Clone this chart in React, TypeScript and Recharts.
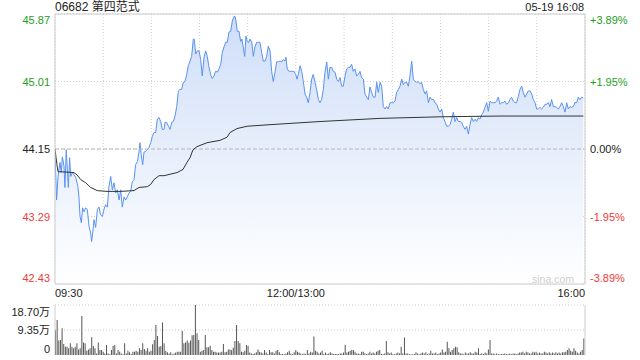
import React from 'react'
import { ComposedChart, Area, Line, XAxis, YAxis, CartesianGrid, ReferenceLine, BarChart, Bar } from 'recharts'

// minute offset from 09:30 (lunch break removed) and last price
const priceMinutes = [
  0, 1.0, 1.9, 3.1, 3.9, 4.6, 5.6, 6.2, 7.0, 7.7, 8.3, 9.1, 9.8, 10.8, 11.8, 12.9, 14.3, 14.9, 15.6, 16.4,
  17.2, 18.1, 19.1, 20.1, 21.2, 22.2, 22.8, 23.7, 24.3, 25.3, 26.4, 27.4, 28.4, 29.5, 30.5, 31.5, 32.6, 33.6, 34.7, 35.7,
  36.7, 37.8, 38.8, 39.9, 40.9, 41.9, 43.0, 44.0, 45.0, 46.1, 47.1, 48.1, 49.2, 50.2, 51.3, 52.3, 52.9, 53.7, 54.6, 55.4,
  56.5, 57.5, 58.5, 59.6, 60.6, 61.6, 62.7, 63.7, 64.8, 65.8, 66.8, 67.9, 68.5, 69.5, 70.6, 71.6, 72.7, 73.7, 74.7, 75.8,
  76.8, 77.8, 78.9, 79.9, 80.9, 82.0, 83.0, 84.1, 85.1, 86.1, 86.7, 87.6, 88.6, 89.7, 90.7, 91.7, 92.8, 93.8, 94.8, 95.9,
  96.9, 97.9, 99.0, 100.0, 101.1, 102.1, 103.2, 104.2, 105.2, 106.3, 107.3, 108.3, 109.4, 110.4, 111.5, 112.1, 112.7, 113.5, 114.6, 115.6,
  116.4, 117.2, 118.1, 118.9, 119.7, 120.6, 121.4, 122.5, 123.5, 124.5, 125.6, 126.6, 127.6, 128.7, 129.7, 130.8, 131.8, 132.8, 133.9, 134.9,
  135.9, 137.0, 138.0, 139.0, 140.1, 141.1, 142.2, 143.2, 143.8, 144.6, 145.7, 146.8, 147.8, 148.8, 149.9, 150.7, 151.5, 152.6, 153.6, 154.6,
  155.7, 156.7, 157.7, 158.8, 159.8, 160.8, 161.9, 162.9, 164.0, 165.0, 166.0, 167.1, 168.1, 169.2, 170.2, 171.2, 172.3, 173.3, 174.3, 175.4,
  176.4, 177.5, 178.5, 179.5, 180.6, 181.6, 182.6, 183.7, 184.7, 185.7, 186.8, 187.8, 188.9, 189.9, 190.9, 192.0, 193.0, 194.1, 195.1, 196.1,
  197.2, 198.2, 199.3, 200.3, 201.3, 202.4, 203.4, 204.4, 205.5, 206.5, 207.5, 208.6, 209.6, 210.7, 211.7, 212.7, 213.8, 214.8, 215.9, 216.9,
  217.9, 219.0, 220.0, 221.0, 222.1, 223.1, 224.2, 225.2, 226.2, 227.3, 228.3, 229.3, 230.4, 231.4, 232.5, 233.5, 234.5, 235.6, 236.6, 237.7,
  238.7, 239.7, 240.8, 241.8, 242.8, 243.9, 244.9, 246.0, 247.0, 248.0, 249.1, 250.1, 251.1, 252.2, 253.2, 254.2, 255.3, 256.3, 257.4, 258.4,
  259.4, 260.5, 261.5, 262.5, 263.6, 264.6, 265.7, 266.7, 267.7, 268.8, 269.8, 270.9, 271.9, 272.9, 274.0, 275.0, 276.0, 277.1, 278.1, 279.1,
  280.2, 281.2, 282.3, 283.3, 284.3, 285.4, 286.4, 287.4, 288.5, 289.5, 290.6, 291.6, 292.6, 293.7, 294.7, 295.8, 296.8, 297.8, 298.9, 299.9,
  300.9, 302.0, 303.0, 304.0, 305.1, 306.1, 307.2, 308.2, 309.2, 310.3, 311.3, 312.3, 313.4, 314.4, 315.5, 316.5, 317.5, 318.6, 319.6, 320.6,
  321.7, 322.7, 323.7, 324.8, 325.8, 326.8, 327.9, 328.9,
]

const prices = [
  44.10, 43.50, 43.80, 43.98, 43.85, 44.05, 43.93, 43.66, 44.14, 43.89, 43.66, 44.04, 43.80, 43.85, 43.82, 43.79, 43.67, 43.54, 43.29, 43.21,
  43.40, 43.35, 43.40, 43.38, 43.16, 43.08, 42.97, 43.12, 43.25, 43.15, 43.38, 43.41, 43.31, 43.29, 43.38, 43.44, 43.41, 43.67, 43.80, 43.63,
  43.72, 43.59, 43.63, 43.50, 43.63, 43.41, 43.54, 43.50, 43.54, 43.59, 43.61, 43.73, 43.76, 43.95, 43.99, 44.11, 44.23, 44.08, 43.95, 44.11,
  44.12, 44.14, 44.17, 44.23, 44.31, 44.36, 44.36, 44.53, 44.55, 44.50, 44.40, 44.40, 44.49, 44.49, 44.44, 44.40, 44.49, 44.50, 44.57, 44.69,
  44.89, 44.91, 44.91, 45.00, 45.01, 45.10, 45.21, 45.27, 45.33, 45.55, 45.55, 45.36, 45.40, 45.40, 45.29, 45.08, 45.32, 45.40, 45.33, 45.19,
  45.10, 45.05, 45.08, 45.14, 45.13, 45.17, 45.23, 45.38, 45.45, 45.51, 45.51, 45.64, 45.65, 45.78, 45.84, 45.84, 45.78, 45.65, 45.65, 45.52,
  45.55, 45.45, 45.33, 45.59, 45.52, 45.51, 45.55, 45.51, 45.33, 45.45, 45.51, 45.51, 45.51, 45.38, 45.27, 45.27, 45.33, 45.46, 45.40, 45.14,
  45.01, 45.13, 45.26, 45.26, 45.27, 45.26, 45.29, 45.27, 45.32, 45.17, 45.14, 45.14, 45.14, 45.14, 45.10, 45.04, 45.10, 45.21, 45.14, 45.01,
  44.85, 44.81, 44.74, 44.87, 45.04, 45.10, 45.00, 44.91, 44.78, 44.74, 44.78, 44.91, 45.13, 45.26, 45.04, 45.19, 45.19, 45.14, 45.13, 45.04,
  45.01, 45.06, 44.95, 44.95, 45.08, 45.17, 45.19, 45.19, 45.23, 45.14, 45.17, 45.08, 45.10, 45.14, 45.06, 45.04, 44.85, 44.81, 44.78, 44.94,
  44.87, 44.81, 44.81, 45.00, 44.87, 45.00, 44.95, 44.69, 44.66, 44.69, 44.66, 44.74, 44.74, 44.74, 44.76, 44.87, 44.91, 44.95, 45.04, 44.97,
  45.00, 45.00, 44.95, 45.08, 45.27, 45.04, 45.01, 45.00, 45.01, 44.98, 45.00, 44.91, 44.85, 44.89, 44.74, 44.81, 44.78, 44.78, 44.74, 44.72,
  44.66, 44.62, 44.66, 44.55, 44.50, 44.44, 44.44, 44.46, 44.53, 44.62, 44.50, 44.55, 44.50, 44.50, 44.49, 44.44, 44.40, 44.44, 44.34, 44.46,
  44.55, 44.50, 44.53, 44.50, 44.55, 44.53, 44.59, 44.62, 44.68, 44.74, 44.63, 44.76, 44.74, 44.74, 44.74, 44.76, 44.81, 44.72, 44.74, 44.74,
  44.76, 44.72, 44.74, 44.78, 44.81, 44.76, 44.74, 44.74, 44.82, 44.91, 44.95, 44.87, 44.81, 44.85, 44.89, 44.89, 44.85, 44.78, 44.74, 44.66,
  44.66, 44.68, 44.66, 44.68, 44.72, 44.72, 44.74, 44.69, 44.78, 44.69, 44.69, 44.68, 44.66, 44.69, 44.74, 44.69, 44.62, 44.74, 44.66, 44.69,
  44.68, 44.69, 44.74, 44.74, 44.81, 44.78, 44.81, 44.80,
]

// average price line
const avgMinutes = [
  0, 1.2, 1.9, 3.7, 11.8, 13.7, 16.0, 19.1, 22.2, 26.3, 32.4, 40.9, 49.2, 52.3, 57.5, 59.6, 61.6, 64.8, 67.9,
  76.0, 79.7, 82.2, 84.1, 85.9, 88.4, 94.6, 102.7, 107.1, 109.0, 113.3, 119.6, 133.9, 165.0, 202.4, 239.7, 277.1, 329.0,
]
const avgPrices = [
  44.15, 43.95, 43.86, 43.86, 43.85, 43.82, 43.76, 43.72, 43.66, 43.62, 43.61, 43.61, 43.62, 43.66, 43.67, 43.70, 43.76, 43.81, 43.81,
  43.85, 43.89, 43.98, 44.04, 44.14, 44.18, 44.23, 44.26, 44.30, 44.36, 44.41, 44.44, 44.46, 44.50, 44.54, 44.56, 44.57, 44.57,
]

// volume per bar, in 万
const volumes = [
  9.4, 13.1, 5.4, 5.6, 10.0, 4.1, 3.1, 3.1, 2.5, 4.4, 3.1, 2.5, 3.1, 4.4, 2.1, 2.5, 14.6, 4.7, 4.4, 1.6,
  2.1, 2.5, 6.6, 3.4, 2.5, 0.6, 4.7, 1.9, 1.9, 1.2, 0.6, 3.7, 0.6, 0.25, 1.9, 3.4, 3.7, 0.6, 1.9, 1.2,
  0.6, 0.25, 4.4, 0.6, 1.6, 1.0, 0.4, 1.2, 1.2, 1.6, 1.2, 2.5, 1.9, 4.4, 2.2, 1.6, 2.5, 1.2, 1.6, 4.0,
  5.6, 11.2, 7.1, 3.1, 3.4, 12.2, 4.4, 1.5, 1.0, 0.6, 1.0, 0.25, 0.6, 0.9, 1.2, 1.2, 1.2, 9.0, 4.4, 4.7,
  5.4, 4.6, 5.4, 7.4, 7.5, 18.7, 8.1, 5.6, 1.2, 1.6, 1.9, 7.5, 2.9, 2.9, 3.5, 1.9, 1.2, 1.2, 0.9, 0.9,
  0.9, 1.2, 4.1, 1.0, 1.2, 2.1, 2.1, 1.9, 2.7, 5.2, 11.2, 5.2, 4.4, 1.2, 1.0, 1.6, 3.7, 3.5, 0.9, 0.6,
  0.4, 0.6, 1.0, 2.1, 1.2, 0.9, 0.6, 1.9, 0.9, 0.4, 1.9, 1.0, 1.0, 0.6, 1.6, 1.9, 1.0, 0.4, 0.4, 0.25,
  0.6, 1.0, 1.6, 0.6, 0.25, 1.0, 1.9, 1.2, 0.9, 0.6, 0.25, 0.6, 0.4, 1.9, 0.6, 1.2, 0.9, 6.9, 1.6, 1.2,
  0.6, 0.9, 1.6,
  0.4, 0.9, 0.4, 0.6, 1.0, 0.6, 0.4, 0.4, 0.4, 0.4, 0.6, 0.6, 0.9, 3.7, 0.9, 1.2, 1.6, 1.9, 1.9, 1.2,
  0.6, 0.6, 0.4, 1.2, 1.2, 0.6, 0.4, 0.6, 1.2, 0.6, 0.9, 0.6, 1.2, 1.6, 1.9, 0.4, 0.4, 0.6, 5.2, 1.0,
  0.6, 0.9, 0.4, 0.25, 0.6, 0.9, 0.6, 3.1, 0.6, 6.5, 0.6, 0.6, 0.25, 0.25, 0.25, 0.4, 1.0, 0.6, 0.25, 0.6,
  0.9, 0.6, 1.0, 0.25, 0.6, 1.6, 0.6, 0.6, 0.9, 0.25, 0.6, 0.9, 2.1, 0.9, 1.2, 5.0, 2.5, 1.2, 1.9, 2.5,
  3.1, 2.9, 1.0, 0.6, 0.6, 0.25, 0.9, 0.6, 0.6, 1.0, 0.6, 0.6, 1.2, 0.9, 2.5, 0.4, 0.6, 0.4, 0.9, 0.6,
  2.1, 5.6, 0.6, 0.6, 0.25, 0.6, 0.4, 0.25, 0.4, 0.4, 0.6, 0.25, 0.4, 0.6, 0.25, 0.6, 0.6, 0.25, 0.6, 0.9,
  0.9, 1.2, 0.6, 1.2, 0.9, 0.6, 0.6, 1.2, 0.9, 1.2, 0.6, 0.9, 0.6, 0.6, 1.2, 0.9, 0.6, 1.0, 0.6, 0.9,
  0.6, 1.0, 0.6, 0.9, 0.6, 1.0, 1.0, 1.2, 1.9, 2.5, 1.6, 1.2, 2.5, 1.6, 0.9, 0.6, 1.2, 1.9, 6.2,
]

const prevClose = 44.15
const priceTicks = [42.43, 43.29, 44.15, 45.01, 45.87]
const priceTickLabels = ['42.43', '43.29', '44.15', '45.01', '45.87']
const pctTickLabels = ['-3.89%', '-1.95%', '0.00%', '+1.95%', '+3.89%']
const timeTicks = [0, 30, 60, 90, 120, 150, 180, 210, 240, 270, 300, 330]
const timeTickLabels = ['09:30', '', '', '', '', '12:00/13:00', '', '', '', '', '', '16:00']
const volumeTicks = [0, 9.35, 18.7]
const volumeTickLabels = ['0', '9.35万', '18.70万']

const title = '06682 第四范式'
const stamp = '05-19 16:08'

const FONT = 'Arial, "Liberation Sans", "Noto Sans CJK SC", sans-serif'
const UP = '#1e9e1e'
const DOWN = '#f03a3a'
const FLAT = '#222'
const BORDER = '#cccccc'

const priceData = priceMinutes.map((t, i) => ({ t, price: prices[i] }))
const avgData = avgMinutes.map((t, i) => ({ t, avg: avgPrices[i] }))
const volumeData = volumes.map((v, i) => ({ i, v }))

const colorFor = (v: number) => (v > prevClose ? UP : v < prevClose ? DOWN : FLAT)

// nudge the first / last labels inside the panel
const edgeShift = (i: number, n: number, down: number, up: number) => (i === n - 1 ? down : i === 0 ? -up : 0)

const PriceTick = (props: any) => {
  const { x, y, payload } = props
  const i = priceTicks.indexOf(payload.value)
  return (
    <text x={x} y={y + edgeShift(i, priceTicks.length, 6, 6)} textAnchor="end" dominantBaseline="central"
      fontSize={11} fontFamily={FONT} fill={colorFor(payload.value)}>
      {priceTickLabels[i]}
    </text>
  )
}

const PctTick = (props: any) => {
  const { x, y, payload } = props
  const i = priceTicks.indexOf(payload.value)
  return (
    <text x={x} y={y + edgeShift(i, priceTicks.length, 6, 6)} textAnchor="start" dominantBaseline="central"
      fontSize={11} fontFamily={FONT} fill={colorFor(payload.value)}>
      {pctTickLabels[i]}
    </text>
  )
}

const TimeTick = (props: any) => {
  const { x, y, payload } = props
  const i = timeTicks.indexOf(payload.value)
  if (!timeTickLabels[i]) return <g />
  const anchor = i === 0 ? 'start' : i === timeTicks.length - 1 ? 'end' : 'middle'
  return (
    <text x={x} y={y + 9} textAnchor={anchor} dominantBaseline="central" fontSize={11} fontFamily={FONT} fill="#222">
      {timeTickLabels[i]}
    </text>
  )
}

const VolumeTick = (props: any) => {
  const { x, y, payload } = props
  const i = volumeTicks.indexOf(payload.value)
  return (
    <text x={x} y={y + edgeShift(i, volumeTicks.length, 7, 6)} textAnchor="end" dominantBaseline="central"
      fontSize={11} fontFamily={FONT} fill="#222">
      {volumeTickLabels[i]}
    </text>
  )
}

export default function App() {
  return (
    <div style={{ position: 'absolute', left: 0, top: 0, width: 640, height: 360, background: '#fff', fontFamily: FONT }}>
      <div style={{ position: 'absolute', left: 55, top: 0, fontSize: 12, lineHeight: '14px', color: '#222' }}>{title}</div>
      <div style={{ position: 'absolute', right: 56, top: 0, fontSize: 11, lineHeight: '14px', color: '#222' }}>{stamp}</div>

      <div style={{ position: 'absolute', left: 0, top: 0 }}>
        <ComposedChart width={640} height={300} data={priceData} margin={{ top: 14, right: 0, bottom: 0, left: 0 }}>
          <defs>
            <linearGradient id="priceFill" x1="0" y1="0" x2="0" y2="1">
              <stop offset="0%" stopColor="#cfdef8" />
              <stop offset="100%" stopColor="#ffffff" />
            </linearGradient>
          </defs>
          <CartesianGrid stroke="#cfcfcf" strokeDasharray="1 2" />
          <XAxis dataKey="t" type="number" domain={[0, 330]} ticks={timeTicks} allowDataOverflow interval={0}
            height={16} tickSize={0} tickMargin={0} tick={<TimeTick />} axisLine={{ stroke: BORDER }} tickLine={false} />
          <YAxis domain={[42.43, 45.87]} ticks={priceTicks} allowDataOverflow width={55} interval={0}
            tickSize={0} tickMargin={5} tick={<PriceTick />} axisLine={{ stroke: BORDER }} tickLine={false} />
          <YAxis yAxisId="right" orientation="right" domain={[42.43, 45.87]} ticks={priceTicks} allowDataOverflow width={55}
            interval={0} tickSize={0} tickMargin={5} tick={<PctTick />} axisLine={{ stroke: BORDER }} tickLine={false} />
          <ReferenceLine y={45.87} stroke={BORDER} />
          <ReferenceLine y={prevClose} stroke="#b5b5b5" strokeDasharray="4 2" />
          <Area type="linear" dataKey="price" stroke="#5a92f0" strokeWidth={1} fill="url(#priceFill)" fillOpacity={1}
            isAnimationActive={false} dot={false} activeDot={false} />
          <Line data={avgData} type="linear" dataKey="avg" stroke="#333" strokeWidth={1} dot={false} activeDot={false}
            isAnimationActive={false} />
        </ComposedChart>
      </div>

      <div style={{ position: 'absolute', left: 532, top: 273, fontSize: 10.5, color: '#cfcfcf' }}>sina.com</div>

      <div style={{ position: 'absolute', left: 0, top: 300 }}>
        <BarChart width={640} height={56} data={volumeData} margin={{ top: 5, right: 0, bottom: 1, left: 0 }}
          barCategoryGap={0}>
          <XAxis dataKey="i" hide />
          <YAxis domain={[0, 18.7]} ticks={volumeTicks} allowDataOverflow width={55} interval={0}
            tickSize={0} tickMargin={5} tick={<VolumeTick />} axisLine={{ stroke: BORDER }} tickLine={false} />
          <YAxis yAxisId="r" orientation="right" domain={[0, 18.7]} width={55} tick={false}
            axisLine={{ stroke: BORDER }} tickLine={false} />
          <ReferenceLine y={18.7} stroke="#cfcfcf" strokeDasharray="1 2" />
          <ReferenceLine y={9.35} stroke="#cfcfcf" strokeDasharray="1 2" />
          <Bar dataKey="v" fill="#555" barSize={1} isAnimationActive={false} />
        </BarChart>
      </div>
    </div>
  )
}
